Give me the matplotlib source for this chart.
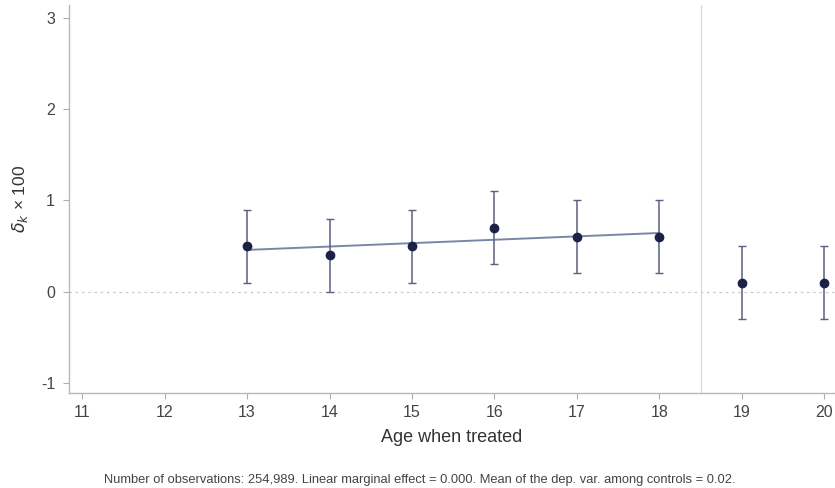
import matplotlib.pyplot as plt
import numpy as np

plt.rcParams['font.family'] = ['Liberation Sans', 'DejaVu Sans']
plt.rcParams['axes.unicode_minus'] = False

ages = [13, 14, 15, 16, 17, 18, 19, 20]
coef = [0.5, 0.4, 0.5, 0.7, 0.6, 0.6, 0.1, 0.1]
ci_low = [0.1, 0.0, 0.1, 0.3, 0.2, 0.2, -0.3, -0.3]
ci_high = [0.9, 0.8, 0.9, 1.1, 1.0, 1.0, 0.5, 0.5]
fit_ages = [13, 14, 15, 16, 17, 18]
note = ("Number of observations: 254,989. Linear marginal effect = 0.000. "
        "Mean of the dep. var. among controls = 0.02.")

fig = plt.figure(figsize=(8.35, 4.88), dpi=100)
ax = fig.add_axes([0.0826, 0.1947, 0.9174, 0.795])

coef = np.array(coef)
err = [coef - np.array(ci_low), np.array(ci_high) - coef]

# linear fit on the treated-before-19 ages
n = len(fit_ages)
b = np.polyfit(fit_ages, coef[:n], 1)
ax.plot(fit_ages, np.polyval(b, fit_ages), color='#7a86a6', lw=1.4, zorder=2)

ax.errorbar(ages, coef, yerr=err, fmt='o', color='#1c2147', ms=6,
            ecolor='#5a6080', elinewidth=1.1, capsize=3, capthick=1, zorder=3)

ax.axhline(0, color='#c8c8c8', lw=0.9, ls=(0, (2, 3)), zorder=1)
ax.axvline(18.5, color='#d8d8d8', lw=0.9, zorder=1)

ax.set_xlim(10.84, 20.13)
ax.set_ylim(-1.11, 3.14)
ax.set_xticks(range(11, 21))
ax.set_yticks([-1, 0, 1, 2, 3])

for s in ['top', 'right']:
    ax.spines[s].set_visible(False)
for s in ['left', 'bottom']:
    ax.spines[s].set_color('#b8b8b8')
    ax.spines[s].set_linewidth(1.0)
ax.tick_params(colors='#b0b0b0', labelcolor='#444444', labelsize=11.5, length=4)
ax.tick_params(axis='x', pad=5)
ax.tick_params(axis='y', pad=6)

ax.set_xlabel('Age when treated', fontsize=13, color='#333333', labelpad=6)
ax.set_ylabel(r'$\delta_k$ × 100', fontsize=12.5, color='#333333', labelpad=8)

fig.text(0.503, 0.005, note, ha='center', va='bottom', fontsize=9.3, color='#444444')

fig.savefig('out.png', dpi=100)
